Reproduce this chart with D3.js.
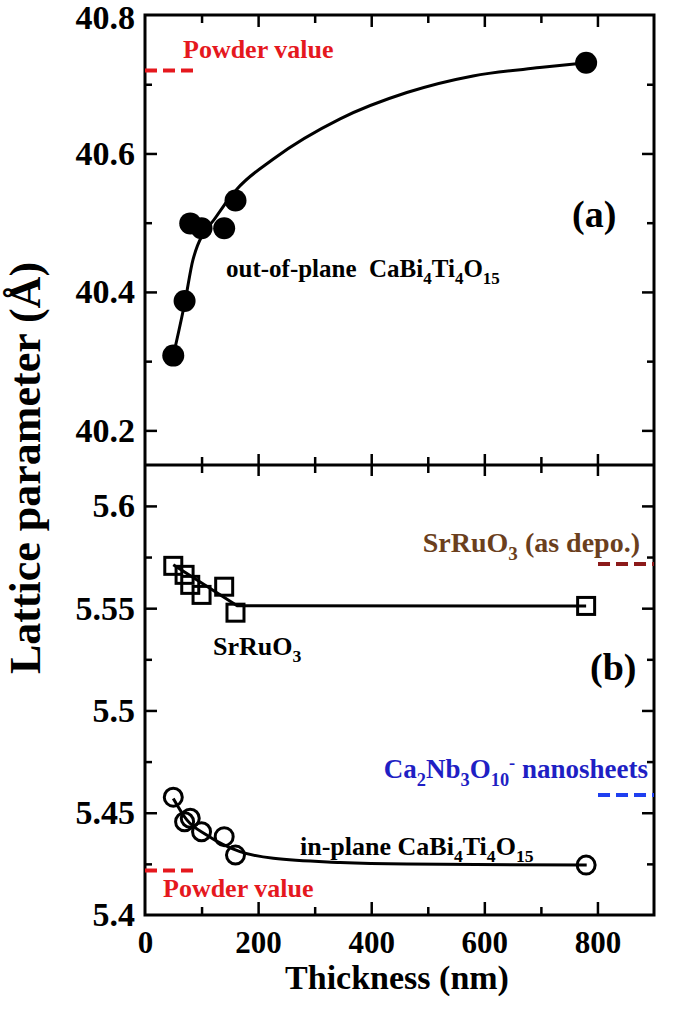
<!DOCTYPE html>
<html><head><meta charset="utf-8">
<script src="https://cdn.jsdelivr.net/npm/d3@7"></script>
<style>
html,body{margin:0;padding:0;background:#fff;}
svg{display:block;font-family:"Liberation Serif","Times New Roman",serif;font-weight:bold;}
text{white-space:pre;}
</style></head><body>
<svg id="c" width="685" height="1018"></svg>
<script>
// ---- data ----
const thickness = [50, 70, 80, 100, 140, 160, 780];
const outOfPlane = [40.308, 40.387, 40.499, 40.492, 40.492, 40.532, 40.731];
const srRuO3 = [5.5707, 5.5663, 5.5614, 5.5565, 5.5605, 5.5478, 5.5511];
const inPlane = [5.4576, 5.4456, 5.4473, 5.4407, 5.4383, 5.4293, 5.4244];

const fitOutX = [50, 71, 85, 127, 162, 227, 345, 463, 580, 698, 781];
const fitOutY = [40.308, 40.387, 40.447, 40.510, 40.548, 40.592, 40.650, 40.688, 40.712, 40.724, 40.731];
const fitSrX = [50, 163, 780];
const fitSrY = [5.5712, 5.5512, 5.5511];
const fitInX = [50, 74, 109, 168, 227, 345, 463, 781];
const fitInY = [5.4570, 5.4465, 5.4391, 5.4310, 5.4277, 5.4257, 5.4249, 5.4244];

const xTicks = [0, 200, 400, 600, 800];
const xMinor = [100, 300, 500, 700];
const topTicks = [40.2, 40.4, 40.6, 40.8];
const topMinor = [40.3, 40.5, 40.7];
const botTicks = [5.4, 5.45, 5.5, 5.55, 5.6];
const botMinor = [5.425, 5.475, 5.525, 5.575];

const powderOut = 40.72;
const powderIn = 5.4217;
const srDepo = 5.5716;
const nanosheet = 5.4587;
const leftRefX = [0, 88];
const rightRefX = [801, 900];

// ---- layout ----
const svg = d3.select("#c");
const L = 145, R = 654, T = 15, M = 465, B = 915;
const x = d3.scaleLinear().domain([0, 900]).range([L, R]);
const yTop = d3.scaleLinear().domain([40.15, 40.8]).range([M, T]);
const yBot = d3.scaleLinear().domain([5.4, 5.62]).range([B, M]);

const RED = "#e5181e", BROWN = "#6b3f1d", DRED = "#8c1a1a", BLUE = "#1f1fc4", BLUE2 = "#1f3ff0";
const TICKFONT = 34;

function styleAxis(g, size) {
  g.attr("font-family", null).attr("font-size", null);
  g.select(".domain").remove();
  g.selectAll(".tick line").attr("stroke", "#000").attr("stroke-width", 2.5);
  g.selectAll(".tick text").attr("fill", "#000").style("font-size", size + "px").style("font-weight", "bold");
}

function yAxes(scale, major, minor) {
  styleAxis(svg.append("g").attr("transform", `translate(${L},0)`)
    .call(d3.axisLeft(scale).tickValues(major).tickSize(-12).tickPadding(10).tickFormat(d => String(d))), TICKFONT);
  styleAxis(svg.append("g").attr("transform", `translate(${L},0)`)
    .call(d3.axisLeft(scale).tickValues(minor).tickSize(-7).tickFormat("")), TICKFONT);
  styleAxis(svg.append("g").attr("transform", `translate(${R},0)`)
    .call(d3.axisRight(scale).tickValues(major).tickSize(-12).tickFormat("")), TICKFONT);
  styleAxis(svg.append("g").attr("transform", `translate(${R},0)`)
    .call(d3.axisRight(scale).tickValues(minor).tickSize(-7).tickFormat("")), TICKFONT);
}
yAxes(yTop, topTicks.filter(d => d < 40.8), topMinor);
yAxes(yBot, botTicks.filter(d => d > 5.4), botMinor);
// labels at frame corners
styleAxis(svg.append("g").attr("transform", `translate(${L},3)`)
  .call(d3.axisLeft(yTop).tickValues([40.8]).tickSize(0).tickPadding(10).tickFormat(d => String(d))), TICKFONT);
styleAxis(svg.append("g").attr("transform", `translate(${L},0)`)
  .call(d3.axisLeft(yBot).tickValues([5.4]).tickSize(0).tickPadding(10).tickFormat(d => String(d))), TICKFONT);

function xAxis(gen, ypos, vals, size, labels) {
  const g = svg.append("g").attr("transform", `translate(0,${ypos})`)
    .call(gen(x).tickValues(vals).tickSize(-size).tickPadding(16).tickFormat(labels ? (d => String(d)) : ""));
  styleAxis(g, 31);
}
xAxis(d3.axisTop, T, xTicks.filter(d => d > 0), 12, false);
xAxis(d3.axisTop, T, xMinor, 8, false);
xAxis(d3.axisBottom, M, xTicks.filter(d => d > 0), 11, false);
xAxis(d3.axisBottom, M, xMinor, 8, false);
xAxis(d3.axisTop, M, xTicks.filter(d => d > 0), 11, false);
xAxis(d3.axisTop, M, xMinor, 8, false);
xAxis(d3.axisBottom, B, xTicks.filter(d => d > 0), 13, false);
xAxis(d3.axisBottom, B, xMinor, 8, false);
xAxis(d3.axisBottom, B, xTicks, 0, true);

// frame
svg.append("rect").attr("x", L).attr("y", T).attr("width", R - L).attr("height", B - T)
  .attr("fill", "none").attr("stroke", "#000").attr("stroke-width", 3);
svg.append("line").attr("x1", L).attr("x2", R).attr("y1", M).attr("y2", M)
  .attr("stroke", "#000").attr("stroke-width", 3);

// reference dashed lines
function refLine(xs, v, scale, color) {
  svg.append("line").attr("x1", x(xs[0])).attr("x2", x(xs[1]))
    .attr("y1", scale(v)).attr("y2", scale(v))
    .attr("stroke", color).attr("stroke-width", 4).attr("stroke-dasharray", "12,6");
}
refLine(leftRefX, powderOut, yTop, RED);
refLine(leftRefX, powderIn, yBot, RED);
refLine(rightRefX, srDepo, yBot, DRED);
refLine(rightRefX, nanosheet, yBot, BLUE2);

// fit curves
function curve(xs, ys, scale, type) {
  const pts = xs.map((v, i) => [v, ys[i]]);
  svg.append("path").datum(pts)
    .attr("d", d3.line().x(d => x(d[0])).y(d => scale(d[1])).curve(type))
    .attr("fill", "none").attr("stroke", "#000").attr("stroke-width", 3);
}
curve(fitOutX, fitOutY, yTop, d3.curveMonotoneX);
curve(fitSrX, fitSrY, yBot, d3.curveLinear);
curve(fitInX, fitInY, yBot, d3.curveMonotoneX);

// markers
svg.append("g").selectAll("circle").data(thickness).join("circle")
  .attr("cx", d => x(d)).attr("cy", (d, i) => yTop(outOfPlane[i])).attr("r", 11).attr("fill", "#000");
svg.append("g").selectAll("rect").data(thickness).join("rect")
  .attr("x", d => x(d) - 8.5).attr("y", (d, i) => yBot(srRuO3[i]) - 8.5)
  .attr("width", 17).attr("height", 17).attr("fill", "none").attr("stroke", "#000").attr("stroke-width", 3);
svg.append("g").selectAll("circle").data(thickness).join("circle")
  .attr("cx", d => x(d)).attr("cy", (d, i) => yBot(inPlane[i])).attr("r", 9)
  .attr("fill", "none").attr("stroke", "#000").attr("stroke-width", 3);

// rich text helper: parts = [text, mode] mode 0 normal, 1 sub, 2 super
function rich(px, py, parts, size, color, anchor) {
  const t = svg.append("text").attr("x", px).attr("y", py).attr("fill", color)
    .attr("text-anchor", anchor || "start").style("font-size", size + "px");
  let shift = 0;
  parts.forEach(([s, m]) => {
    const target = m === 1 ? size * 0.28 : m === 2 ? -size * 0.35 : 0;
    const ts = t.append("tspan").text(s).attr("dy", target - shift);
    if (m) ts.style("font-size", (size * 0.68) + "px");
    shift = target;
  });
  return t;
}

rich(183, 58, [["Powder value", 0]], 26, RED);
rich(163, 897, [["Powder value", 0]], 26, RED);
rich(226, 277, [["out-of-plane  CaBi", 0], ["4", 1], ["Ti", 0], ["4", 1], ["O", 0], ["15", 1]], 25, "#000");
rich(300, 855, [["in-plane CaBi", 0], ["4", 1], ["Ti", 0], ["4", 1], ["O", 0], ["15", 1]], 26, "#000");
rich(213, 655, [["SrRuO", 0], ["3", 1]], 26, "#000");
rich(640, 552, [["SrRuO", 0], ["3", 1], [" (as depo.)", 0]], 28, BROWN, "end");
rich(648, 778, [["Ca", 0], ["2", 1], ["Nb", 0], ["3", 1], ["O", 0], ["10", 1], ["-", 2], [" nanosheets", 0]], 27, BLUE, "end");

svg.append("text").attr("x", 572).attr("y", 227).style("font-size", "38px").text("(a)");
svg.append("text").attr("x", 590).attr("y", 680).style("font-size", "38px").text("(b)");

// axis titles
svg.append("text").attr("x", 397).attr("y", 989).attr("text-anchor", "middle")
  .style("font-size", "34px").text("Thickness (nm)");
svg.append("text").attr("transform", "translate(40,468) rotate(-90)").attr("text-anchor", "middle")
  .style("font-size", "44px").text("Lattice parameter (Å)");
</script>
</body></html>
